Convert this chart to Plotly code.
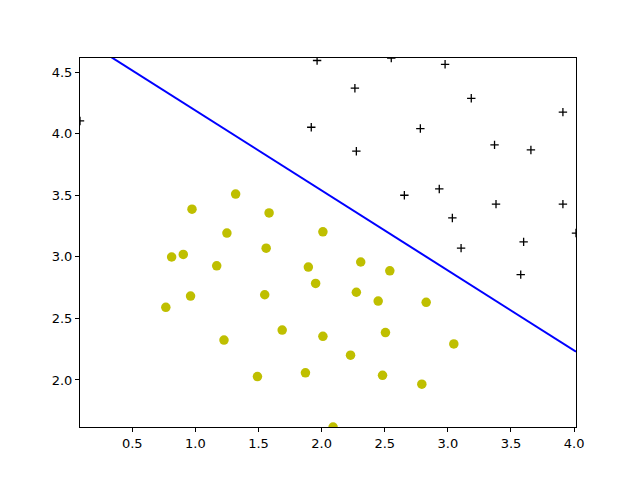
import plotly.graph_objects as go

# positive examples (+)
pos_x = [1.9643, 2.2753, 2.9781, 2.9320, 3.5772, 4.0150, 3.3814, 3.9113, 2.7822, 2.5518,
         3.3698, 3.1048, 1.9182, 2.2638, 2.6555, 3.1855, 3.6579, 3.9113, 3.6002, 3.0357, 0.086405]
pos_y = [4.5957, 3.8589, 4.5651, 3.5519, 2.8560, 3.1937, 3.4291, 4.1761, 4.0431, 4.6162,
         3.9101, 3.0709, 4.0534, 4.3706, 3.5008, 4.2888, 3.8692, 3.4291, 3.1221, 3.3165, 4.1045]

# negative examples (o)
neg_x = [1.5841, 2.0103, 1.9527, 2.2753, 2.3099, 2.8283, 3.0473, 2.4827, 2.5057, 1.8721,
         2.0103, 1.2269, 1.8951, 1.5610, 1.5495, 1.6878, 1.4919, 0.9620, 1.1693, 0.8122,
         0.9735, 1.2500, 1.3191, 2.2292, 2.4482, 2.7938, 2.0910, 2.5403, 0.9044, 0.76615]
neg_y = [3.3575, 3.2039, 2.7843, 2.7127, 2.9584, 2.6309, 2.2931, 2.0373, 2.3853, 2.0577,
         2.3546, 2.3239, 2.9174, 3.0709, 2.6923, 2.4057, 2.0271, 2.6820, 2.9276, 2.9992,
         3.3881, 3.1937, 3.5109, 2.2010, 2.6411, 1.9656, 1.6177, 2.8867, 3.0198, 2.5899]

# decision boundary endpoints
boundary_x = [0.086405, 4.0150]
boundary_y = [4.784, 2.230]

x_range = [0.086405, 4.0150]
y_range = [1.6177, 4.6162]

fig = go.Figure()
fig.add_trace(go.Scatter(x=pos_x, y=pos_y, mode="markers",
                         marker=dict(symbol="cross-thin", size=6, line=dict(color="black", width=1.3)),
                         showlegend=False, cliponaxis=True))
fig.add_trace(go.Scatter(x=neg_x, y=neg_y, mode="markers",
                         marker=dict(symbol="circle", size=9.5, color="#bfbf00"),
                         showlegend=False, cliponaxis=True))
fig.add_trace(go.Scatter(x=boundary_x, y=boundary_y, mode="lines",
                         line=dict(color="#0000ff", width=2), showlegend=False))

axis_common = dict(showline=True, linecolor="black", linewidth=1, mirror=True,
                   ticks="outside", ticklen=4, tickwidth=1, tickcolor="black",
                   showgrid=False, zeroline=False, tickformat=".1f",
                   tickfont=dict(family="DejaVu Sans", size=13, color="black"))

fig.update_layout(
    width=640, height=480,
    margin=dict(l=72, r=72, t=50, b=61),
    paper_bgcolor="white", plot_bgcolor="white",
    xaxis=dict(range=x_range, tick0=0, dtick=0.5, **axis_common),
    yaxis=dict(range=y_range, tick0=0, dtick=0.5, **axis_common),
)

fig.write_html("out.html")
